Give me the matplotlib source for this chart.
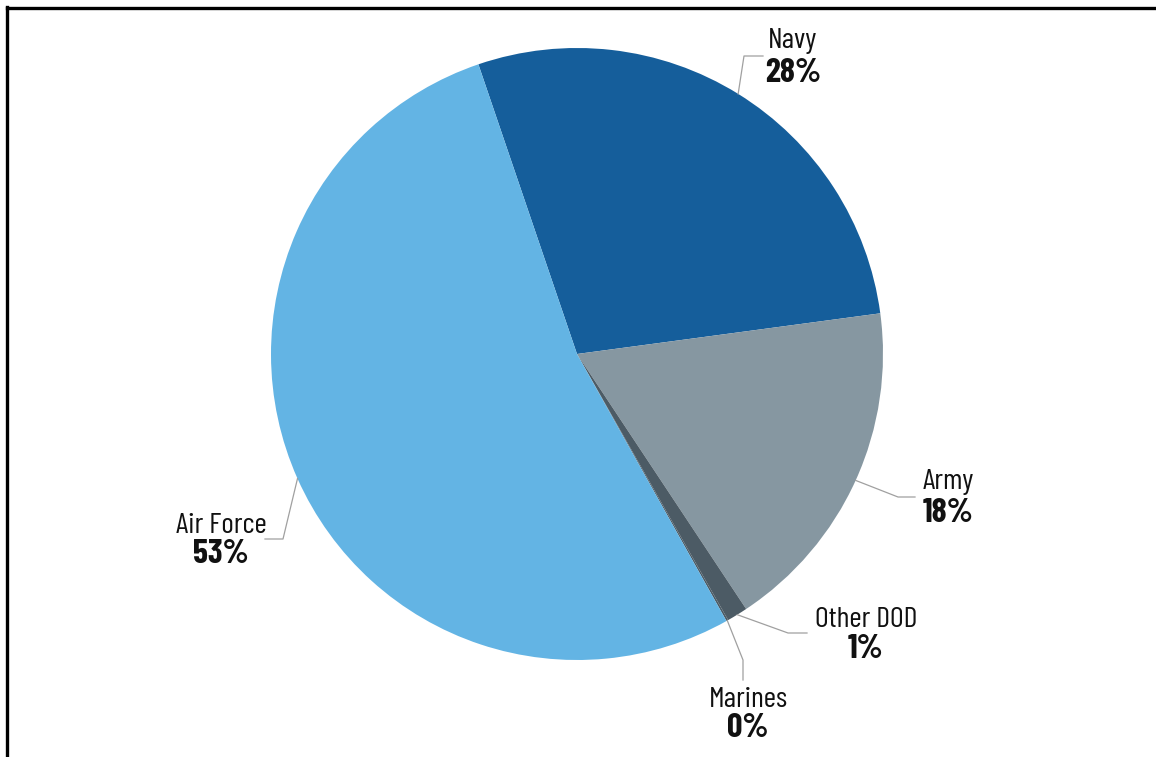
import numpy as np
import matplotlib
matplotlib.use('Agg')
import matplotlib.pyplot as plt
from matplotlib.lines import Line2D

# data
services = ['Navy', 'Army', 'Other DOD', 'Marines', 'Air Force']
shares = [28.1, 17.8, 1.1, 0.1, 52.9]
pct_labels = ['28%', '18%', '1%', '0%', '53%']
colors = ['#155E9B', '#8697A1', '#4C5B65', '#4C5B65', '#63B4E4']

W, H = 1156, 757
cx, cy, R = 577, 354, 306   # pie centre / radius in pixels

def px(x, y):
    # pixel position -> data units of the pie axes
    return (x - cx) / R, (cy - y) / R

# label layout in pixels: elbow, line end, text centre x, name baseline, pct baseline
layout = {
    'Navy':      dict(elbow=(744, 56),  end=(763, 56),  tx=793, yn=48,  yp=82),
    'Army':      dict(elbow=(898, 497), end=(915, 497), tx=948, yn=489, yp=522),
    'Other DOD': dict(elbow=(788, 633), end=(807, 633), tx=866, yn=627, yp=658),
    'Marines':   dict(elbow=(743, 660), end=(743, 680), tx=748, yn=707, yp=737),
    'Air Force': dict(elbow=(283, 539), end=(265, 539), tx=221, yn=533, yp=563),
}

plt.rcParams['font.family'] = ['Barlow Condensed', 'Liberation Sans Narrow', 'DejaVu Sans']

fig = plt.figure(figsize=(W / 100, H / 100), dpi=100)
ax = fig.add_axes([(cx - R) / W, (H - cy - R) / H, 2 * R / W, 2 * R / H])
ax.axis('off')

wedges, _ = ax.pie(shares, colors=colors, startangle=108.8, counterclock=False,
                   radius=1, center=(0, 0), frame=False,
                   wedgeprops=dict(linewidth=0))
ax.set_xlim(-1, 1)
ax.set_ylim(-1, 1)

for w, name, pct in zip(wedges, services, pct_labels):
    ang = np.deg2rad((w.theta1 + w.theta2) / 2)
    x0, y0 = np.cos(ang), np.sin(ang)
    L = layout[name]
    x1, y1 = px(*L['elbow'])
    x2, y2 = px(*L['end'])
    ax.plot([x0, x1, x2], [y0, y1, y2], color='#A0A0A0', lw=0.9, clip_on=False)
    tx, yn = px(L['tx'], L['yn'])
    _, yp = px(L['tx'], L['yp'])
    ax.text(tx, yn, name, ha='center', va='baseline', fontsize=21.5,
            color='#111111')
    ax.text(tx, yp, pct, ha='center', va='baseline', fontsize=24.5,
            fontweight='bold', color='#111111')

# frame on top and left
fig.add_artist(Line2D([7 / W, 7 / W], [0, 1 - 7 / H], color='black', lw=2.4))
fig.add_artist(Line2D([7 / W, 1], [1 - 8 / H, 1 - 8 / H], color='black', lw=2.4))

fig.savefig('out.png', dpi=100)
